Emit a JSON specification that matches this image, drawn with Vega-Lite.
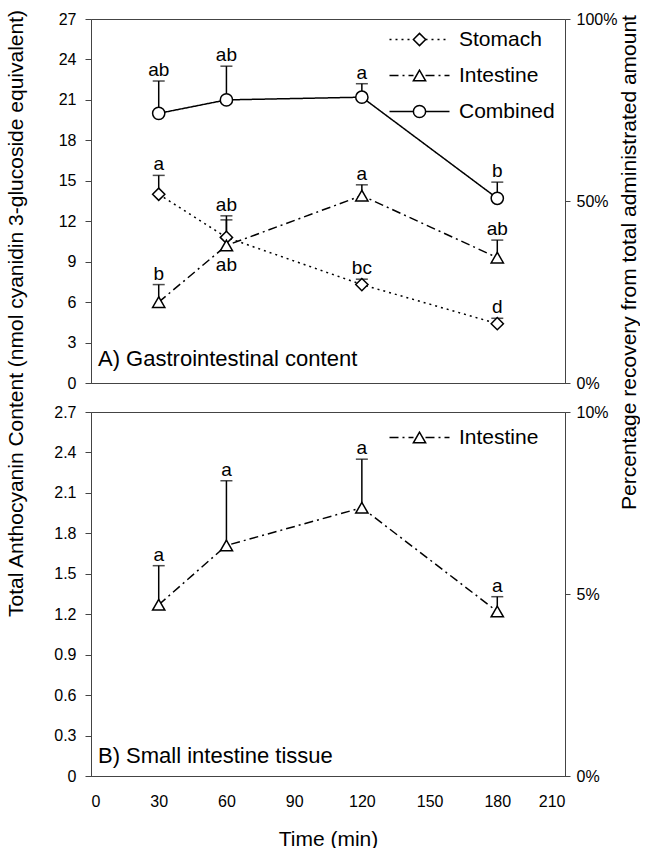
{
  "$schema": "https://vega.github.io/schema/vega-lite/v6.json",
  "background": "white",
  "padding": {"left": 4, "top": 8, "right": 0, "bottom": 0},
  "config": {
    "font": "Liberation Sans",
    "view": {"stroke": "#444", "strokeWidth": 1},
    "axis": {"grid": false, "domainColor": "#444", "tickColor": "#444", "labelColor": "black", "titleColor": "black", "labelFontSize": 16, "titleFontSize": 21, "titleFontWeight": "normal", "labelFont": "Liberation Sans", "titleFont": "Liberation Sans"},
    "legend": {"labelFont": "Liberation Sans", "labelColor": "black"},
    "title": {"font": "Liberation Sans", "color": "black", "fontWeight": "normal"},
    "text": {"font": "Liberation Sans", "color": "black"}
  },
  "datasets": {
    "gi": [
      {"series": "Stomach", "t": 30, "v": 14.0, "hi": 15.4, "lab": "a"},
      {"series": "Stomach", "t": 60, "v": 10.8, "hi": 12.4, "lab": "ab"},
      {"series": "Stomach", "t": 120, "v": 7.3, "hi": 7.7, "lab": "bc"},
      {"series": "Stomach", "t": 180, "v": 4.4, "hi": 4.8, "lab": "d"},
      {"series": "Intestine", "t": 30, "v": 6.0, "hi": 7.3, "lab": "b"},
      {"series": "Intestine", "t": 60, "v": 10.2, "hi": 12.1, "lab": "ab"},
      {"series": "Intestine", "t": 120, "v": 13.9, "hi": 14.7, "lab": "a"},
      {"series": "Intestine", "t": 180, "v": 9.3, "hi": 10.6, "lab": "ab"},
      {"series": "Combined", "t": 30, "v": 20.0, "hi": 22.4, "lab": "ab"},
      {"series": "Combined", "t": 60, "v": 21.0, "hi": 23.5, "lab": "ab"},
      {"series": "Combined", "t": 120, "v": 21.2, "hi": 22.2, "lab": "a"},
      {"series": "Combined", "t": 180, "v": 13.7, "hi": 14.9, "lab": "b"}
    ],
    "tissue": [
      {"series": "Intestine", "t": 30, "v": 1.27, "hi": 1.56, "lab": "a"},
      {"series": "Intestine", "t": 60, "v": 1.71, "hi": 2.19, "lab": "a"},
      {"series": "Intestine", "t": 120, "v": 1.99, "hi": 2.35, "lab": "a"},
      {"series": "Intestine", "t": 180, "v": 1.22, "hi": 1.33, "lab": "a"}
    ],
    "blank": [{}]
  },
  "bounds": "flush",
  "spacing": 29,
  "vconcat": [
    {
      "width": 474,
      "height": 364,
      "title": {"text": "A) Gastrointestinal content", "orient": "top", "anchor": "start", "frame": "group", "baseline": "middle", "offset": -372, "dx": 7, "fontSize": 22},
      "layer": [
        {
          "data": {"name": "gi"},
          "encoding": {
            "x": {"field": "t", "type": "quantitative", "scale": {"domain": [0, 210]}, "axis": {"labels": false, "ticks": false, "title": null, "domain": true}},
            "y": {"field": "v", "type": "quantitative", "scale": {"domain": [0, 27]}, "axis": {"values": [0, 3, 6, 9, 12, 15, 18, 21, 24, 27], "format": "~g", "tickSize": 6, "labelPadding": 9, "title": "Total Anthocyanin Content (nmol cyanidin 3-glucoside equivalent)", "titleX": -75, "titleY": 294, "titleBaseline": "middle", "titleAngle": -90, "titleAlign": "center"}}
          },
          "layer": [
            {"mark": {"type": "rule", "color": "black", "strokeWidth": 1.5}, "encoding": {"y2": {"field": "hi"}}},
            {"mark": {"type": "tick", "orient": "horizontal", "size": 12, "thickness": 1.5, "color": "black"},
             "encoding": {"y": {"field": "hi", "type": "quantitative", "scale": {"domain": [0, 27]}, "axis": {"values": [0, 3, 6, 9, 12, 15, 18, 21, 24, 27], "format": "~g", "tickSize": 6, "labelPadding": 9, "title": "Total Anthocyanin Content (nmol cyanidin 3-glucoside equivalent)", "titleX": -75, "titleY": 294, "titleBaseline": "middle", "titleAngle": -90, "titleAlign": "center"}}}},
            {"mark": {"type": "line", "color": "black", "strokeWidth": 1.5},
             "encoding": {"strokeDash": {"field": "series", "type": "nominal", "scale": {"domain": ["Stomach", "Intestine", "Combined"], "range": [[2, 4], [9, 4, 2, 4], [1, 0]]}, "legend": {"orient": "none", "legendX": 318, "legendY": 10, "title": null, "symbolType": "M-5,0L-1,0M1,0L5,0", "symbolSize": 144, "symbolStrokeColor": "black", "symbolFillColor": "transparent", "symbolStrokeWidth": 1.3, "labelFontSize": 21, "labelOffset": 29, "rowPadding": 14, "padding": 0}}}},
            {"mark": {"type": "point", "filled": true, "fill": "white", "stroke": "black", "strokeWidth": 1.5, "size": 150, "opacity": 1},
             "encoding": {"shape": {"field": "series", "type": "nominal", "scale": {"domain": ["Combined", "Intestine", "Stomach"], "range": ["circle", "triangle-up", "diamond"]}, "legend": {"orient": "none", "legendX": 318, "legendY": 10, "title": null, "values": ["Stomach", "Intestine", "Combined"], "symbolSize": 150, "labelFontSize": 21, "labelOffset": 29, "rowPadding": 14, "padding": 0, "labelColor": "transparent", "encode": {"symbols": {"update": {"fill": {"value": "white"}, "stroke": {"value": "black"}, "strokeWidth": {"value": 1.5}, "opacity": {"value": 1}}}}}}}},
            {"transform": [{"filter": "!(datum.series == 'Intestine' && datum.t == 60)"}],
             "mark": {"type": "text", "baseline": "alphabetic", "dy": -5, "fontSize": 19},
             "encoding": {"y": {"field": "hi", "type": "quantitative", "scale": {"domain": [0, 27]}, "axis": {"values": [0, 3, 6, 9, 12, 15, 18, 21, 24, 27], "format": "~g", "tickSize": 6, "labelPadding": 9, "title": "Total Anthocyanin Content (nmol cyanidin 3-glucoside equivalent)", "titleX": -75, "titleY": 294, "titleBaseline": "middle", "titleAngle": -90, "titleAlign": "center"}}, "text": {"field": "lab"}}},
            {"transform": [{"filter": "datum.series == 'Intestine' && datum.t == 60"}],
             "mark": {"type": "text", "baseline": "top", "dy": 11, "fontSize": 19},
             "encoding": {"text": {"field": "lab"}}}
          ]
        },
        {
          "data": {"name": "blank"},
          "mark": {"type": "rule", "opacity": 0},
          "encoding": {"y": {"datum": 0, "type": "quantitative", "scale": {"domain": [0, 1]}, "axis": {"orient": "right", "values": [0, 0.5, 1], "format": ".0%", "tickSize": 5, "labelPadding": 6, "title": "Percentage recovery from total administrated amount", "titleAngle": -90, "titleX": 64, "titleY": 243, "titleBaseline": "middle", "titleAlign": "center"}}}
        }
      ],
      "resolve": {"scale": {"y": "independent"}}
    },
    {
      "width": 474,
      "height": 364,
      "title": {"text": "B) Small intestine tissue", "orient": "top", "anchor": "start", "frame": "group", "baseline": "middle", "offset": -374, "dx": 7, "fontSize": 22},
      "layer": [
        {
          "data": {"name": "tissue"},
          "encoding": {
            "x": {"field": "t", "type": "quantitative", "scale": {"domain": [0, 210]}, "axis": {"values": [0, 30, 60, 90, 120, 150, 180, 210], "ticks": false, "labelPadding": 17, "title": "Time (min)", "titlePadding": 19}},
            "y": {"field": "v", "type": "quantitative", "scale": {"domain": [0, 2.7]}, "axis": {"values": [0, 0.3, 0.6, 0.9, 1.2, 1.5, 1.8, 2.1, 2.4, 2.7], "format": "~g", "tickSize": 6, "labelPadding": 9, "title": null}}
          },
          "layer": [
            {"mark": {"type": "rule", "color": "black", "strokeWidth": 1.5}, "encoding": {"y2": {"field": "hi"}}},
            {"mark": {"type": "tick", "orient": "horizontal", "size": 12, "thickness": 1.5, "color": "black"},
             "encoding": {"y": {"field": "hi", "type": "quantitative", "scale": {"domain": [0, 2.7]}, "axis": {"values": [0, 0.3, 0.6, 0.9, 1.2, 1.5, 1.8, 2.1, 2.4, 2.7], "format": "~g", "tickSize": 6, "labelPadding": 9, "title": null}}}},
            {"mark": {"type": "line", "color": "black", "strokeWidth": 1.5},
             "encoding": {"strokeDash": {"field": "series", "type": "nominal", "scale": {"domain": ["Intestine"], "range": [[9, 4, 2, 4]]}, "legend": {"orient": "none", "legendX": 318, "legendY": 15, "title": null, "symbolType": "M-5,0L-1,0M1,0L5,0", "symbolSize": 144, "symbolStrokeColor": "black", "symbolFillColor": "transparent", "symbolStrokeWidth": 1.3, "labelFontSize": 21, "labelOffset": 29, "rowPadding": 14, "padding": 0}}}},
            {"mark": {"type": "point", "filled": true, "fill": "white", "stroke": "black", "strokeWidth": 1.5, "size": 150, "opacity": 1},
             "encoding": {"shape": {"field": "series", "type": "nominal", "scale": {"domain": ["Intestine", "Other"], "range": ["triangle-up", "circle"]}, "legend": {"orient": "none", "legendX": 318, "legendY": 15, "title": null, "values": ["Intestine"], "symbolSize": 150, "labelFontSize": 21, "labelOffset": 29, "rowPadding": 14, "padding": 0, "labelColor": "transparent", "encode": {"symbols": {"update": {"fill": {"value": "white"}, "stroke": {"value": "black"}, "strokeWidth": {"value": 1.5}, "opacity": {"value": 1}}}}}}}},
            {"mark": {"type": "text", "baseline": "alphabetic", "dy": -5, "fontSize": 19},
             "encoding": {"y": {"field": "hi", "type": "quantitative", "scale": {"domain": [0, 2.7]}, "axis": {"values": [0, 0.3, 0.6, 0.9, 1.2, 1.5, 1.8, 2.1, 2.4, 2.7], "format": "~g", "tickSize": 6, "labelPadding": 9, "title": null}}, "text": {"field": "lab"}}}
          ]
        },
        {
          "data": {"name": "blank"},
          "mark": {"type": "rule", "opacity": 0},
          "encoding": {"y": {"datum": 0, "type": "quantitative", "scale": {"domain": [0, 0.1]}, "axis": {"orient": "right", "values": [0, 0.05, 0.1], "format": ".0%", "tickSize": 5, "labelPadding": 6, "title": null}}}
        }
      ],
      "resolve": {"scale": {"y": "independent"}}
    }
  ],
  "resolve": {"scale": {"x": "independent", "y": "independent", "shape": "independent", "strokeDash": "independent"}, "legend": {"shape": "independent", "strokeDash": "independent"}}
}
